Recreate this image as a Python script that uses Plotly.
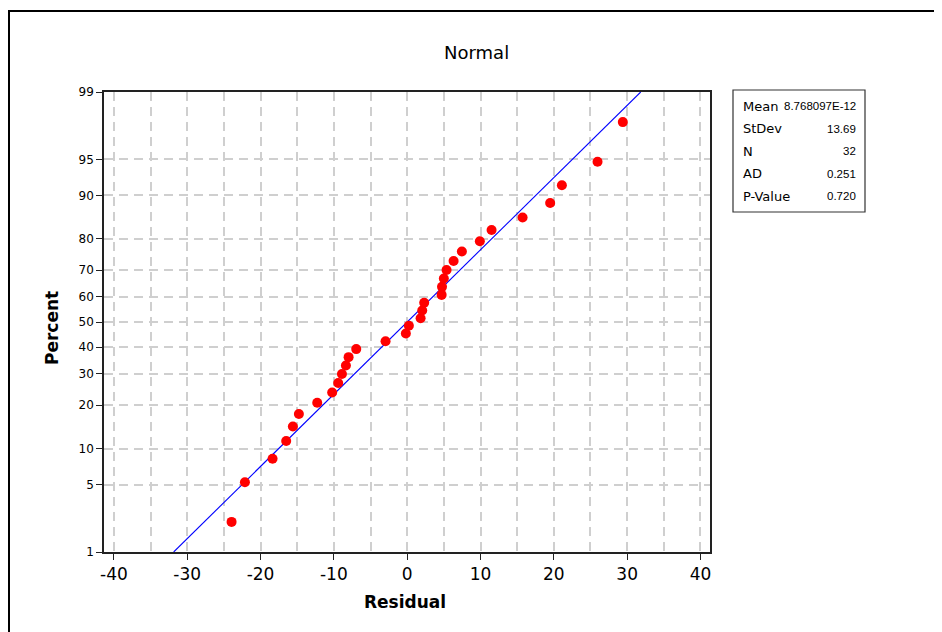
import statistics
import plotly.graph_objects as go

# ---- data ----
residuals = [-23.95, -22.13, -18.36, -16.50, -15.59, -14.77, -12.27, -10.23,
             -9.41, -8.90, -8.36, -7.99, -6.95, -2.95, -0.18, 0.23,
             1.83, 2.05, 2.32, 4.70, 4.75, 5.00, 5.37, 6.33,
             7.46, 9.91, 11.51, 15.74, 19.50, 21.10, 25.96, 29.41]
percents = [2.16, 5.25, 8.33, 11.42, 14.51, 17.59, 20.68, 23.77,
            26.85, 29.94, 33.02, 36.11, 39.20, 42.28, 45.37, 48.46,
            51.54, 54.63, 57.72, 60.80, 63.89, 66.98, 70.06, 73.15,
            76.23, 79.32, 82.41, 85.49, 88.58, 91.67, 94.75, 97.84]
y_tick_pct = [1, 5, 10, 20, 30, 40, 50, 60, 70, 80, 90, 95, 99]
x_ticks = [-40, -30, -20, -10, 0, 10, 20, 30, 40]
fit_pct = [1, 99]
MEAN = 0.0
STDEV = 13.69
stat_labels = ["Mean", "StDev", "N", "AD", "P-Value"]
stat_values = ["8.768097E-12", "13.69", "32", "0.251", "0.720"]

nd = statistics.NormalDist()


def z(p):
    return nd.inv_cdf(p / 100.0)


W, H = 942, 632
OFF = 8  # page offset of the figure inside the html body
PL, PR, PT, PB = 104, 710, 92, 552  # plot area on the page
L = PL - OFF
T = PT - OFF
R = W - (PR - OFF)
B = H - (PB - OFF)
PW, PH = PR - PL, PB - PT


def px(xp):
    return (xp - PL) / PW


def py(yp):
    return (PB - yp) / PH


GRID = "#cfcfcf"
DASH = "9px,6px"
FONT = "DejaVu Sans"

fig = go.Figure()
fig.add_trace(go.Scatter(
    x=[MEAN + STDEV * z(p) for p in fit_pct],
    y=[z(p) for p in fit_pct],
    mode="lines", line=dict(color="#0000FF", width=1.1),
    hoverinfo="skip", showlegend=False))
fig.add_trace(go.Scatter(
    x=residuals, y=[z(p) for p in percents],
    mode="markers", marker=dict(color="#FF0000", size=10, line=dict(width=0)),
    showlegend=False))

fig.update_layout(
    width=W, height=H, autosize=False,
    margin=dict(l=L, r=R, t=T, b=B, pad=0),
    paper_bgcolor="white", plot_bgcolor="white",
    template="none",
    font=dict(family=FONT, color="black"),
    showlegend=False,
)
fig.update_xaxes(
    range=[-41.35, 41.3], tickvals=x_ticks, ticktext=[str(v) for v in x_ticks],
    ticks="outside", ticklen=6, tickwidth=1, tickcolor="#222",
    tickfont=dict(size=17, family=FONT),
    showline=True, linecolor="#222", linewidth=1.5, mirror=True,
    showgrid=True, gridcolor=GRID, gridwidth=2, griddash=DASH,
    minor=dict(dtick=5, tick0=0, showgrid=True, gridcolor=GRID, gridwidth=2,
               griddash=DASH, ticks=""),
    zeroline=False, automargin=False,
)
fig.update_yaxes(
    range=[z(1), z(99)], tickvals=[z(p) for p in y_tick_pct],
    ticktext=[str(p) for p in y_tick_pct],
    ticks="outside", ticklen=6, tickwidth=1, tickcolor="#222",
    tickfont=dict(size=12, family=FONT),
    showline=True, linecolor="#222", linewidth=1.5, mirror=True,
    showgrid=True, gridcolor=GRID, gridwidth=2, griddash=DASH,
    zeroline=False, automargin=False,
)

ann = [
    dict(text="Normal", x=px(476), y=py(52), xref="paper", yref="paper",
         showarrow=False, font=dict(size=18, family=FONT), xanchor="center", yanchor="middle"),
    dict(text="<b>Percent</b>", x=px(52), y=py(328), xref="paper", yref="paper",
         showarrow=False, textangle=-90, font=dict(size=17, family=FONT),
         xanchor="center", yanchor="middle"),
    dict(text="<b>Residual</b>", x=px(405), y=py(602), xref="paper", yref="paper",
         showarrow=False, font=dict(size=17, family=FONT), xanchor="center", yanchor="middle"),
]
row_y = [106, 128.5, 151, 173.5, 196]
for lab, val, ry in zip(stat_labels, stat_values, row_y):
    ann.append(dict(text=lab, x=px(741), y=py(ry), xref="paper", yref="paper",
                    showarrow=False, xanchor="left", yanchor="middle",
                    font=dict(size=13, family=FONT)))
    ann.append(dict(text=val, x=px(858), y=py(ry), xref="paper", yref="paper",
                    showarrow=False, xanchor="right", yanchor="middle",
                    font=dict(size=11.5, family="Liberation Sans")))
fig.update_layout(annotations=ann)

fig.update_layout(shapes=[
    dict(type="rect", xref="paper", yref="paper",
         x0=px(OFF + 1), x1=px(980), y0=py(680), y1=py(11),
         line=dict(color="black", width=2), fillcolor="rgba(0,0,0,0)", layer="above"),
    dict(type="rect", xref="paper", yref="paper",
         x0=px(733), x1=px(865), y0=py(212), y1=py(90),
         line=dict(color="#333", width=1.2), fillcolor="rgba(0,0,0,0)"),
])

fig.write_html("out.html")
